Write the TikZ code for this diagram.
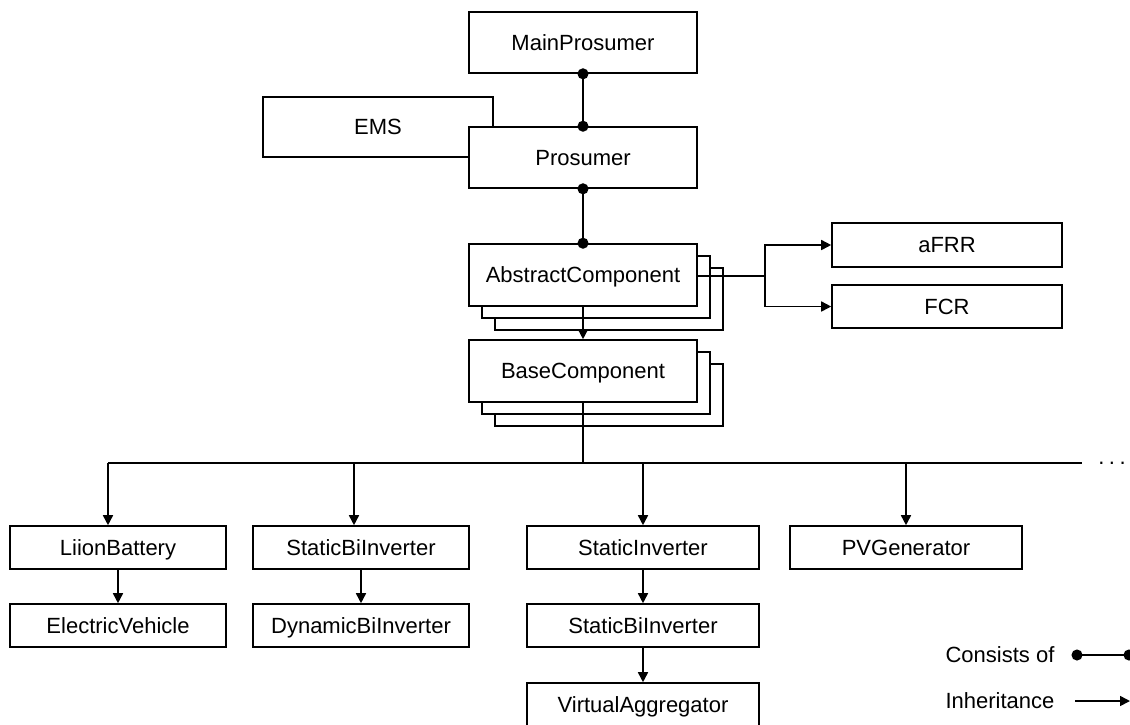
\documentclass[tikz,border=0pt]{standalone}
\usepackage{fontspec}
\setmainfont{Liberation Sans}
\usetikzlibrary{arrows.meta,shadows}
\begin{document}
\begin{tikzpicture}[
  x=1pt, y=-1pt,
  font=\fontsize{22}{26}\selectfont,
  line width=1.6pt,
  box/.style={draw, fill=white, rectangle, inner sep=0pt,
    text height=15.7pt, text depth=0pt},
  stacked/.style={box, double copy shadow={shadow xshift=13pt, shadow yshift=-12pt}},
  consists/.style={{Circle[length=11pt]}-{Circle[length=11pt]},
    shorten <=-5.5pt, shorten >=-5.5pt},
  inherit/.style={-{Triangle[length=10pt,width=10pt]}},
]
\useasboundingbox (0,0) rectangle (1130,724);

% upper part
\node[box, minimum width=228pt, minimum height=61pt] (main) at (583,42.5) {MainProsumer};
\node[box, minimum width=230pt, minimum height=60pt] (ems) at (378,127) {EMS};
\node[box, minimum width=228pt, minimum height=61pt] (pros) at (583,157.5) {Prosumer};
\node[stacked, minimum width=228pt, minimum height=62pt] (ac) at (583,275) {AbstractComponent};
\node[stacked, minimum width=228pt, minimum height=62pt] (base) at (583,371) {BaseComponent};
\node[box, minimum width=230pt, minimum height=44pt] (afrr) at (947,245) {aFRR};
\node[box, minimum width=230pt, minimum height=43pt] (fcr) at (947,306.5) {FCR};

% derived classes
\node[box, minimum width=216pt, minimum height=43pt] (liion) at (118,547.5) {LiionBattery};
\node[box, minimum width=216pt, minimum height=43pt] (ev) at (118,625.5) {ElectricVehicle};
\node[box, minimum width=216pt, minimum height=43pt] (sbi) at (361,547.5) {StaticBiInverter};
\node[box, minimum width=216pt, minimum height=43pt] (dbi) at (361,625.5) {DynamicBiInverter};
\node[box, minimum width=232pt, minimum height=43pt] (si) at (643,547.5) {StaticInverter};
\node[box, minimum width=232pt, minimum height=43pt] (sbii) at (643,625.5) {StaticBiInverter};
\node[box, minimum width=232pt, minimum height=43pt] (va) at (643,704.5) {VirtualAggregator};
\node[box, minimum width=232pt, minimum height=43pt] (pv) at (906,547.5) {PVGenerator};

% composition links
\draw[consists] (main.south) -- (pros.north);
\draw[consists] (pros.south) -- (ac.north);

% AbstractComponent to the reserve markets
\coordinate (split) at (765,276);
\draw (ac.east |- split) -- (split);
\draw[inherit] (split) |- (afrr.west);
\draw[inherit] (split) |- (fcr.west);

\draw[inherit] (ac.south) -- (base.north);

% distribution bus below BaseComponent
\coordinate (busL) at (108,463);
\coordinate (busR) at (1082,463);
\coordinate (b1) at (108,463);
\coordinate (b2) at (354,463);
\coordinate (b3) at (643,463);
\coordinate (b4) at (906,463);
\draw (base.south) -- (base.south |- busL);
\draw (busL) -- (busR);
\node[anchor=base] (more) at (1112,464) {.\kern4.5pt.\kern4.5pt.};

\draw[inherit] (b1) -- (b1 |- liion.north);
\draw[inherit] (b2) -- (b2 |- sbi.north);
\draw[inherit] (b3) -- (si.north);
\draw[inherit] (b4) -- (pv.north);

\draw[inherit] (liion.south) -- (ev.north);
\draw[inherit] (sbi.south) -- (dbi.north);
\draw[inherit] (si.south) -- (sbii.north);
\draw[inherit] (sbii.south) -- (va.north);

% legend
\node (lgc) at (1000,655) {Consists of};
\node (lgi) at (1000,701) {Inheritance};
\coordinate (c1) at (1077,655);
\coordinate (c2) at (1129,655);
\coordinate (i1) at (1075,701);
\coordinate (i2) at (1130,701);
\draw[consists] (c1) -- (c2);
\draw[inherit] (i1) -- (i2);
\end{tikzpicture}
\end{document}
